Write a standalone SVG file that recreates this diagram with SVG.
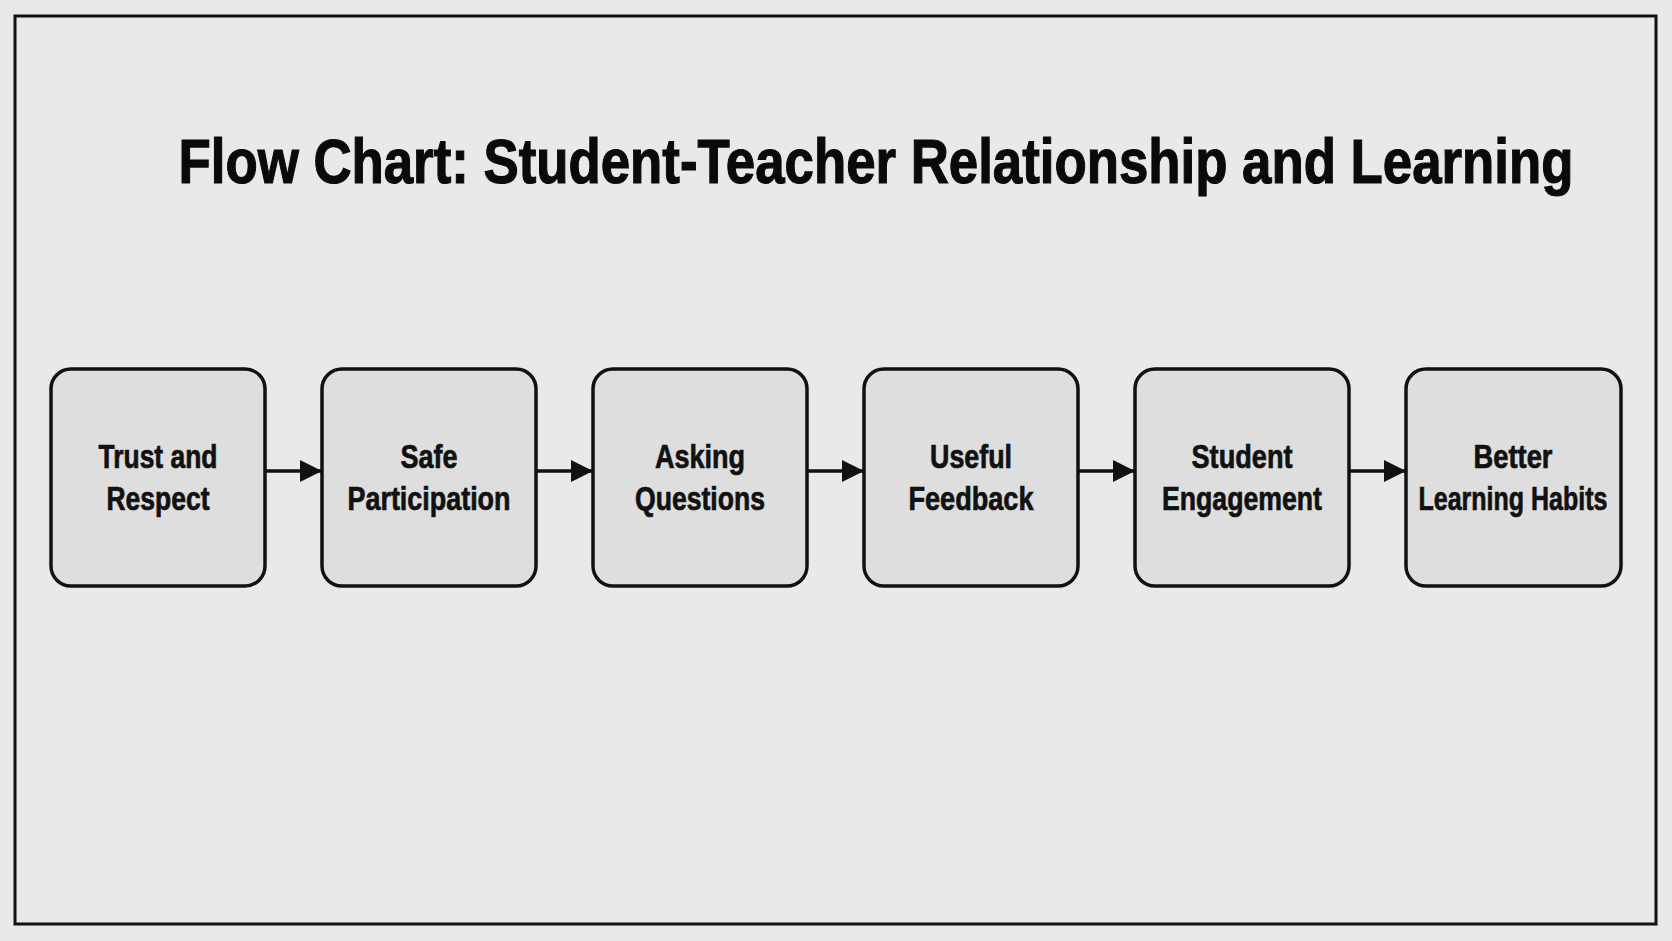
<svg xmlns="http://www.w3.org/2000/svg" width="1672" height="941" viewBox="0 0 1672 941">
<defs>
<style>
.bg{fill:#e9e9e9}
.frame{fill:none;stroke:#111;stroke-width:3}
.node rect{fill:#dedede;stroke:#111;stroke-width:3.5}
.lbl{font-family:"Liberation Sans",Arial,sans-serif;font-weight:bold;font-size:33px;fill:#111;stroke:#111;stroke-width:0.7;text-anchor:middle}
.title{font-family:"Liberation Sans",Arial,sans-serif;font-weight:bold;font-size:63px;fill:#0a0a0a;stroke:#0a0a0a;stroke-width:1.2;text-anchor:middle}
.edge{stroke:#111;stroke-width:3.5;fill:none}
</style>
<marker id="arr" markerWidth="22" markerHeight="22" refX="21" refY="11" orient="auto" markerUnits="userSpaceOnUse" viewBox="0 0 22 22">
<path d="M0,0 L22,11 L0,22 Z" fill="#111"/>
</marker>
</defs>
<rect class="bg" x="0" y="0" width="1672" height="941"/>
<rect class="frame" x="15" y="16" width="1641" height="908"/>
<g id="title" transform="translate(876,183) scale(0.838,1)">
<text class="title" x="0" y="0">Flow Chart: Student-Teacher Relationship and Learning</text>
</g>
<g id="connectors">
<line class="edge" x1="266" y1="471" x2="321" y2="471" marker-end="url(#arr)"/>
<line class="edge" x1="537" y1="471" x2="592" y2="471" marker-end="url(#arr)"/>
<line class="edge" x1="808" y1="471" x2="863" y2="471" marker-end="url(#arr)"/>
<line class="edge" x1="1079" y1="471" x2="1134" y2="471" marker-end="url(#arr)"/>
<line class="edge" x1="1350" y1="471" x2="1405" y2="471" marker-end="url(#arr)"/>
</g>
<g id="n1" class="node">
<rect x="51" y="369" width="214" height="217" rx="20"/>
<text class="lbl" x="158" y="468" textLength="119" lengthAdjust="spacingAndGlyphs">Trust and</text>
<text class="lbl" x="158" y="510" textLength="103" lengthAdjust="spacingAndGlyphs">Respect</text>
</g>
<g id="n2" class="node">
<rect x="322" y="369" width="214" height="217" rx="20"/>
<text class="lbl" x="429" y="468" textLength="57" lengthAdjust="spacingAndGlyphs">Safe</text>
<text class="lbl" x="429" y="510" textLength="163" lengthAdjust="spacingAndGlyphs">Participation</text>
</g>
<g id="n3" class="node">
<rect x="593" y="369" width="214" height="217" rx="20"/>
<text class="lbl" x="700" y="468" textLength="90" lengthAdjust="spacingAndGlyphs">Asking</text>
<text class="lbl" x="700" y="510" textLength="130" lengthAdjust="spacingAndGlyphs">Questions</text>
</g>
<g id="n4" class="node">
<rect x="864" y="369" width="214" height="217" rx="20"/>
<text class="lbl" x="971" y="468" textLength="82" lengthAdjust="spacingAndGlyphs">Useful</text>
<text class="lbl" x="971" y="510" textLength="125" lengthAdjust="spacingAndGlyphs">Feedback</text>
</g>
<g id="n5" class="node">
<rect x="1135" y="369" width="214" height="217" rx="20"/>
<text class="lbl" x="1242" y="468" textLength="101" lengthAdjust="spacingAndGlyphs">Student</text>
<text class="lbl" x="1242" y="510" textLength="160" lengthAdjust="spacingAndGlyphs">Engagement</text>
</g>
<g id="n6" class="node">
<rect x="1406" y="369" width="215" height="217" rx="20"/>
<text class="lbl" x="1513" y="468" textLength="79" lengthAdjust="spacingAndGlyphs">Better</text>
<text class="lbl" x="1513" y="510" textLength="189" lengthAdjust="spacingAndGlyphs">Learning Habits</text>
</g>
</svg>
